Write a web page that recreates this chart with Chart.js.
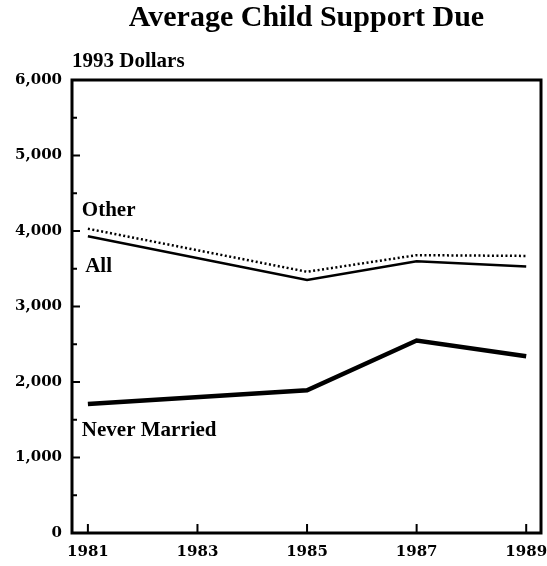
<!DOCTYPE html>
<html>
<head>
<meta charset="utf-8">
<script src="https://cdn.jsdelivr.net/npm/chart.js@4/dist/chart.umd.min.js"></script>
<style>
  body { margin: 0; background: #fff; }
  #wrap { width: 547px; height: 566px; }
</style>
</head>
<body>
<div id="wrap"><canvas id="lineChart"></canvas></div>
<script>
// values (1993 dollars)
const years = [1981, 1985, 1987, 1989];
const otherDue = [4030, 3460, 3680, 3670];
const allDue = [3930, 3350, 3600, 3530];
const neverMarriedDue = [1710, 1890, 2550, 2340];
const xTickYears = [1981, 1983, 1985, 1987, 1989];
const yTickValues = [0, 1000, 2000, 3000, 4000, 5000, 6000];

const toPoints = vals => vals.map((v, i) => ({ x: years[i], y: v }));

// series names placed next to the lines, in data units
const seriesLabels = [
    { text: 'Other', x: 1980.89, y: 4265 },
    { text: 'All', x: 1980.95, y: 3525 },
    { text: 'Never Married', x: 1980.89, y: 1350 }
];

const serif = "'Liberation Serif', 'Times New Roman', serif";
const tickFont = { family: "'DejaVu Serif', serif", size: 15, weight: 'bold' };

// frame, inward tick marks and text labels
const frameAndLabels = {
    id: 'frameAndLabels',
    afterDraw(chart) {
        const ctx = chart.ctx;
        const area = chart.chartArea;
        const xs = chart.scales.x;
        const ys = chart.scales.y;
        ctx.save();
        ctx.strokeStyle = '#000';
        ctx.lineWidth = 3;
        ctx.strokeRect(area.left, area.top, area.right - area.left, area.bottom - area.top);

        ctx.lineWidth = 2;
        ctx.beginPath();
        yTickValues.forEach(v => {
            const py = ys.getPixelForValue(v);
            ctx.moveTo(area.left, py);
            ctx.lineTo(area.left + 8, py);
        });
        for (let v = 500; v < 6000; v += 1000) {
            const py = ys.getPixelForValue(v);
            ctx.moveTo(area.left, py);
            ctx.lineTo(area.left + 5, py);
        }
        xTickYears.forEach(yr => {
            const px = xs.getPixelForValue(yr);
            ctx.moveTo(px, area.bottom);
            ctx.lineTo(px, area.bottom - 9);
        });
        ctx.stroke();

        ctx.fillStyle = '#000';
        ctx.textAlign = 'left';
        ctx.textBaseline = 'middle';
        ctx.font = 'bold 21px ' + serif;
        ctx.fillText('1993 Dollars', area.left, area.top - 18);

        seriesLabels.forEach(l => {
            ctx.fillText(l.text, xs.getPixelForValue(l.x), ys.getPixelForValue(l.y));
        });
        ctx.restore();
    }
};

const ctxLine = document.getElementById('lineChart').getContext('2d');
const lineChart = new Chart(ctxLine, {
    type: 'line',
    data: {
        datasets: [
            {
                label: 'Other',
                data: toPoints(otherDue),
                borderColor: '#000',
                borderWidth: 2.5,
                borderDash: [2, 2.5],
                pointRadius: 0,
                tension: 0
            },
            {
                label: 'All',
                data: toPoints(allDue),
                borderColor: '#000',
                borderWidth: 2.5,
                pointRadius: 0,
                tension: 0
            },
            {
                label: 'Never Married',
                data: toPoints(neverMarriedDue),
                borderColor: '#000',
                borderWidth: 4.5,
                pointRadius: 0,
                tension: 0
            }
        ]
    },
    options: {
        responsive: true,
        maintainAspectRatio: false,
        animation: false,
        layout: { padding: { left: 0, right: 6, top: 0, bottom: 0 } },
        plugins: {
            legend: { display: false },
            tooltip: { enabled: false },
            title: {
                display: true,
                fullSize: false,
                text: 'Average Child Support Due',
                color: '#000',
                font: { family: serif, size: 30, weight: 'bold' },
                padding: { top: 0, bottom: 44 }
            }
        },
        scales: {
            x: {
                type: 'linear',
                min: 1980.71,
                max: 1989.27,
                afterBuildTicks: axis => {
                    axis.ticks = xTickYears.map(v => ({ value: v }));
                },
                afterFit: axis => {
                    axis.height = 33;
                    axis.paddingLeft = 0;
                    axis.paddingRight = 0;
                },
                grid: { display: false, drawTicks: false },
                border: { display: false },
                ticks: {
                    color: '#000',
                    font: tickFont,
                    padding: 10,
                    maxRotation: 0,
                    callback: v => String(v)
                }
            },
            y: {
                min: 0,
                max: 6000,
                afterBuildTicks: axis => {
                    axis.ticks = yTickValues.map(v => ({ value: v }));
                },
                afterFit: axis => {
                    axis.width = 72;
                    axis.paddingTop = 0;
                    axis.paddingBottom = 0;
                },
                grid: { display: false, drawTicks: false },
                border: { display: false },
                ticks: {
                    color: '#000',
                    font: tickFont,
                    padding: 10
                }
            }
        }
    },
    plugins: [frameAndLabels]
});
</script>
</body>
</html>
